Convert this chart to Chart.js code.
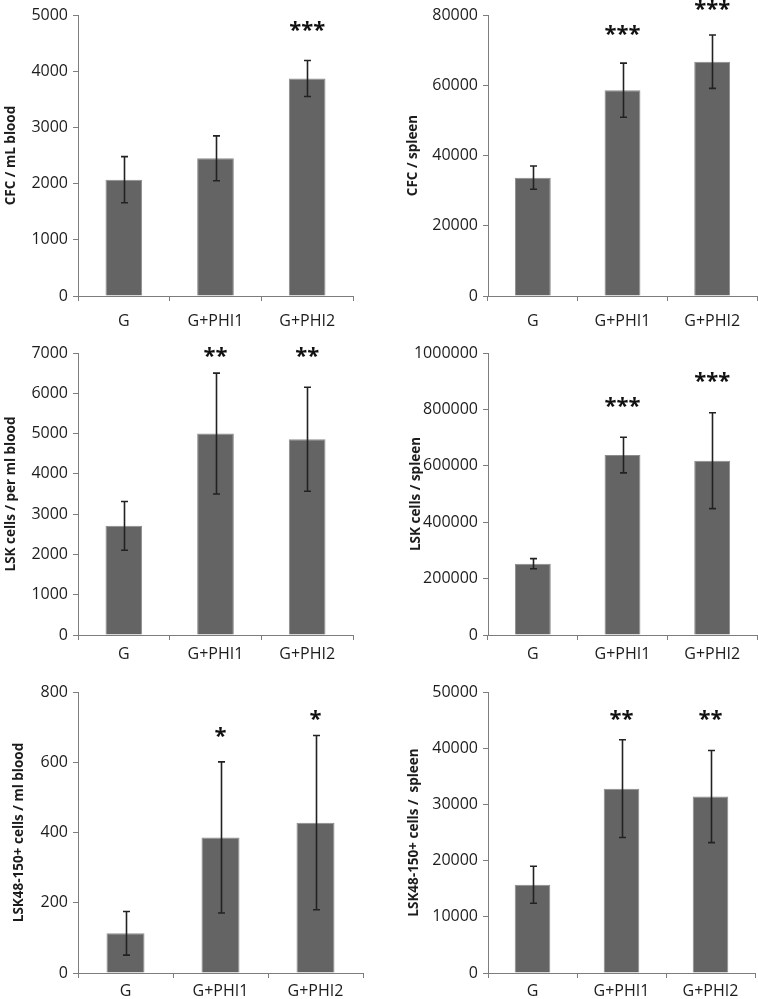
<!DOCTYPE html>
<html><head><meta charset="utf-8">
<script src="https://cdn.jsdelivr.net/npm/chart.js@4.4.1/dist/chart.umd.min.js"></script>
<style>
html,body{margin:0;padding:0;background:#fff;}
#wrap{position:relative;width:758px;height:999px;background:#fff;overflow:hidden;}
canvas{position:absolute;}
</style></head><body><div id="wrap">
<canvas id="c1" width="380" height="345" style="left:0px;top:0px"></canvas>
<canvas id="c2" width="378" height="345" style="left:380px;top:0px"></canvas>
<canvas id="c3" width="380" height="345" style="left:0px;top:330px"></canvas>
<canvas id="c4" width="378" height="345" style="left:380px;top:330px"></canvas>
<canvas id="c5" width="380" height="345" style="left:0px;top:660px"></canvas>
<canvas id="c6" width="378" height="345" style="left:380px;top:660px"></canvas>
</div>
<script>
// ---------------- DATA ----------------
const categories = ['G', 'G+PHI1', 'G+PHI2'];

const cfcBloodTitle = 'CFC / mL blood';
const cfcBloodMean = [2070, 2450, 3870];
const cfcBloodErr = [410, 400, 320];
const cfcBloodStars = ['', '', '***'];
const cfcBloodStarAt = [null, null, 4770];
const cfcBloodTicks = [0, 1000, 2000, 3000, 4000, 5000];

const cfcSpleenTitle = 'CFC / spleen';
const cfcSpleenMean = [33700, 58600, 66700];
const cfcSpleenErr = [3300, 7700, 7600];
const cfcSpleenStars = ['', '***', '***'];
const cfcSpleenStarAt = [null, 75200, 82500];
const cfcSpleenTicks = [0, 20000, 40000, 60000, 80000];

const lskBloodTitle = 'LSK cells / per ml blood';
const lskBloodMean = [2710, 5000, 4860];
const lskBloodErr = [605, 1500, 1290];
const lskBloodStars = ['', '**', '**'];
const lskBloodStarAt = [null, 7000, 7000];
const lskBloodTicks = [0, 1000, 2000, 3000, 4000, 5000, 6000, 7000];

const lskSpleenTitle = 'LSK cells / spleen';
const lskSpleenMean = [253000, 638000, 618000];
const lskSpleenErr = [18000, 63000, 170000];
const lskSpleenStars = ['', '***', '***'];
const lskSpleenStarAt = [null, 822000, 910000];
const lskSpleenTicks = [0, 200000, 400000, 600000, 800000, 1000000];

const slamBloodTitle = 'LSK48-150+ cells / ml blood';
const slamBloodMean = [113, 386, 428];
const slamBloodErr = [62, 215, 248];
const slamBloodStars = ['', '*', '*'];
const slamBloodStarAt = [null, 682, 729];
const slamBloodTicks = [0, 200, 400, 600, 800];

const slamSpleenTitle = 'LSK48-150+ cells /  spleen';
const slamSpleenMean = [15700, 32800, 31400];
const slamSpleenErr = [3300, 8700, 8200];
const slamSpleenStars = ['', '**', '**'];
const slamSpleenStarAt = [null, 45600, 45600];
const slamSpleenTicks = [0, 10000, 20000, 30000, 40000, 50000];

// ---------------- LAYOUT / STYLE ----------------
const FONT = "'Open Sans', sans-serif";
const TEXT = '#1c1c1c';
const AXIS = '#7d7d7d';

const errStarPlugin = {
  id: 'errStar',
  afterDatasetsDraw(chart) {
    const ctx = chart.ctx;
    const y = chart.scales.y;
    const ds = chart.data.datasets[0];
    const meta = chart.getDatasetMeta(0);
    ctx.save();
    ctx.strokeStyle = '#222';
    ctx.lineWidth = 1.6;
    meta.data.forEach((bar, i) => {
      const m = ds.data[i], e = ds.errors[i];
      const xc = Math.round(bar.x) + 0.5;
      const yT = y.getPixelForValue(m + e), yB = y.getPixelForValue(m - e);
      ctx.beginPath();
      ctx.moveTo(xc, yT); ctx.lineTo(xc, yB);
      ctx.moveTo(xc - 3.5, yT); ctx.lineTo(xc + 3.5, yT);
      ctx.moveTo(xc - 3.5, yB); ctx.lineTo(xc + 3.5, yB);
      ctx.stroke();
      if (ds.stars[i]) {
        ctx.fillStyle = '#111';
        ctx.font = "bold 22px " + FONT;
        ctx.textAlign = 'center';
        ctx.textBaseline = 'alphabetic';
        ctx.fillText(ds.stars[i], bar.x, y.getPixelForValue(ds.starAt[i]) + 9.5);
      }
    });
    ctx.restore();
  }
};

function makeChart(id, L, title, mean, err, stars, starAt, ticks) {
  const tmin = ticks[0], tmax = ticks[ticks.length - 1], step = ticks[1] - ticks[0];
  const canvas = document.getElementById(id);
  const H = canvas.height;
  new Chart(canvas, {
    type: 'bar',
    data: {
      labels: categories,
      datasets: [{
        data: mean, errors: err, stars: stars, starAt: starAt,
        backgroundColor: '#646464', borderColor: '#8c8c8c', borderWidth: 1,
        barPercentage: 0.4, categoryPercentage: 1.0
      }]
    },
    options: {
      responsive: false, animation: false, events: [],
      layout: { padding: { left: 0, top: L.top, right: L.w - L.right, bottom: 0 } },
      plugins: { legend: { display: false }, tooltip: { enabled: false } },
      scales: {
        x: {
          grid: { display: true, offset: true, drawOnChartArea: false, tickLength: 5, color: AXIS, lineWidth: 1 },
          border: { display: true, color: AXIS, width: 1 },
          ticks: { color: TEXT, font: { family: FONT, size: 16 }, padding: L.labelPad, maxRotation: 0 },
          afterFit: s => { s.height = H - L.bottom; }
        },
        y: {
          min: tmin, max: tmax,
          grid: { display: true, drawOnChartArea: false, tickLength: 5, color: AXIS, lineWidth: 1 },
          border: { display: true, color: AXIS, width: 1 },
          ticks: { stepSize: step, color: TEXT, font: { family: FONT, size: 16 }, padding: 5,
                   callback: v => String(v) },
          title: { display: true, text: title, color: TEXT,
                   font: { family: FONT, size: 13.5, weight: 'bold' },
                   padding: { top: L.titleX - 8.1, bottom: 0 } },
          afterFit: s => { s.width = L.axisX; }
        }
      }
    },
    plugins: [errStarPlugin]
  });
}

makeChart('c1', {w:380, axisX:78,  top:15, bottom:296, right:353, titleX:11, labelPad:11}, cfcBloodTitle, cfcBloodMean, cfcBloodErr, cfcBloodStars, cfcBloodStarAt, cfcBloodTicks);
makeChart('c2', {w:378, axisX:108, top:15, bottom:296, right:377, titleX:33, labelPad:11}, cfcSpleenTitle, cfcSpleenMean, cfcSpleenErr, cfcSpleenStars, cfcSpleenStarAt, cfcSpleenTicks);
makeChart('c3', {w:380, axisX:78,  top:23, bottom:305, right:353, titleX:11, labelPad:5}, lskBloodTitle, lskBloodMean, lskBloodErr, lskBloodStars, lskBloodStarAt, lskBloodTicks);
makeChart('c4', {w:378, axisX:108, top:23, bottom:305, right:377, titleX:36, labelPad:5}, lskSpleenTitle, lskSpleenMean, lskSpleenErr, lskSpleenStars, lskSpleenStarAt, lskSpleenTicks);
makeChart('c5', {w:380, axisX:78,  top:32, bottom:313, right:363, titleX:19, labelPad:4}, slamBloodTitle, slamBloodMean, slamBloodErr, slamBloodStars, slamBloodStarAt, slamBloodTicks);
makeChart('c6', {w:378, axisX:108, top:32, bottom:313, right:375, titleX:34, labelPad:4}, slamSpleenTitle, slamSpleenMean, slamSpleenErr, slamSpleenStars, slamSpleenStarAt, slamSpleenTicks);
</script>
</body></html>
